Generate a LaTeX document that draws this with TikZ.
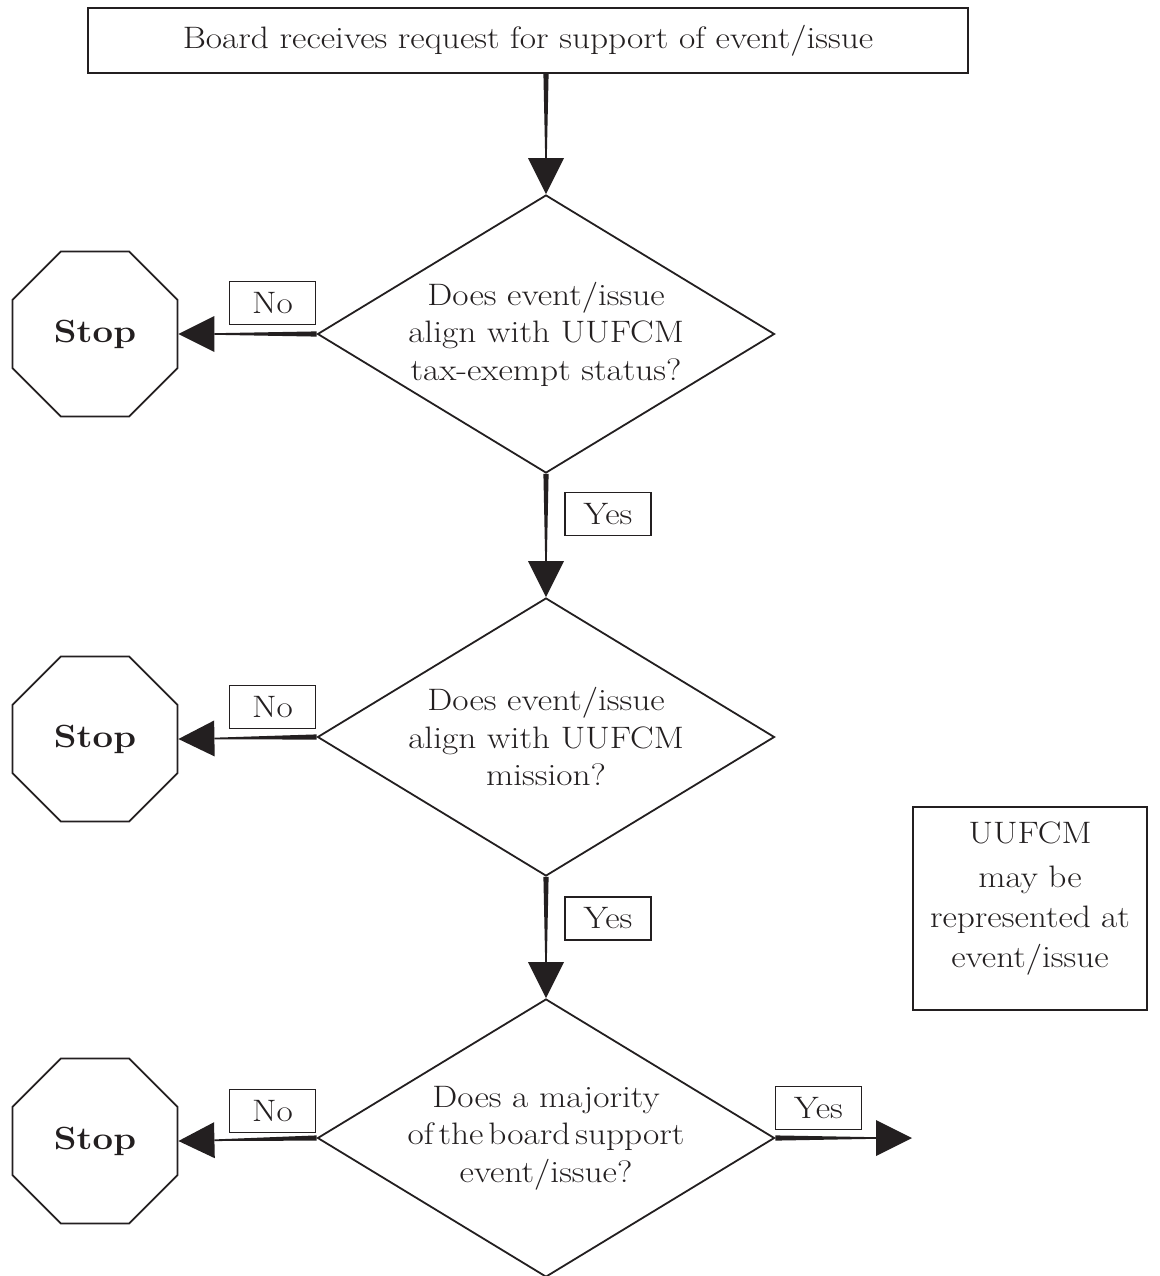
\documentclass[tikz,border=0pt]{standalone}
\usepackage{fontspec}
\setmainfont{Latin Modern Roman}[FakeStretch=1.14]
\usetikzlibrary{shapes.geometric,calc}
\definecolor{ink}{RGB}{35,31,32}
\newcommand\taper[2]{%
  \coordinate (tpB) at ($(#2)!36pt!(#1)$);
  \fill[ink] ($(#1)!2.6pt!90:(#2)$) -- ($(tpB)!0.8pt!-90:(#1)$) -- ($(tpB)!0.8pt!90:(#1)$) -- ($(#1)!2.6pt!-90:(#2)$) -- cycle;
  \fill[ink] ($(tpB)!18pt!-90:(#1)$) -- (#2) -- ($(tpB)!18pt!90:(#1)$) -- cycle;}
\begin{document}
\begin{tikzpicture}[x=1pt,y=-1pt,
  every node/.style={font=\fontsize{31}{37.5}\selectfont, text=ink},
  box/.style={draw=ink, line width=1.8pt, inner sep=0pt},
  dia/.style={diamond, aspect=1.644, draw=ink, line width=1.8pt, minimum width=457pt, minimum height=278pt, inner sep=0pt, align=center},
  stopbox/.style={regular polygon, regular polygon sides=8, draw=ink, line width=1.8pt, minimum size=178.6pt, inner sep=0pt, font=\fontsize{32}{40}\selectfont\bfseries},
  lbl/.style={draw=ink, line width=1.2pt, minimum width=86pt, minimum height=43pt, inner sep=0pt},
  ]
\useasboundingbox (0,0) rectangle (1159,1276);
\fill[white] (0,0) rectangle (1159,1276);

\node[box, minimum width=880pt, minimum height=65pt] (top) at (528,40.5) {Board receives request for support of event/issue};

\node[dia] (d1) at (546,334) {Does event/issue\\align with UUFCM\\tax-exempt status?};
\node[dia] (d2) at (546,737) {Does event/issue\\align with UUFCM\\mission?};
\node[dia] (d3) at (546,1138) {Does a majority\\of\hspace{5pt}the\hspace{5pt}board\hspace{5pt}support\\event/issue?};

\node[stopbox] (s1) at (95,334) {\raisebox{-3pt}{Stop}};
\node[stopbox] (s2) at (95,739) {\raisebox{-3pt}{Stop}};
\node[stopbox] (s3) at (95,1141) {\raisebox{-3pt}{Stop}};

\node[lbl] (n1) at (272.5,303) {No};
\node[lbl] (n2) at (272.5,707) {No};
\node[lbl] (n3) at (272.5,1111) {No};
\node[lbl] (y1) at (608,514) {Yes};
\node[lbl] (y2) at (608,918.5) {Yes};
\node[lbl] (y3) at (818.5,1108) {Yes};

\node[box, line width=1.2pt, minimum width=234pt, minimum height=203pt, text width=230pt, align=center, font=\fontsize{31}{40}\selectfont] (note) at (1030,908.5) {UUFCM\\[4pt]may be\\represented at\\event/issue\par\vspace{20pt}};

\coordinate (t0) at (top.south -| d1.north);
\coordinate (e3) at (912,1138);

\taper{t0}{d1.north}
\taper{d1.south}{d2.north}
\taper{d2.south}{d3.north}
\taper{d1.west}{s1.east}
\taper{d2.west}{s2.east}
\taper{d3.west}{s3.east}
\taper{d3.east}{e3}
\end{tikzpicture}
\end{document}
